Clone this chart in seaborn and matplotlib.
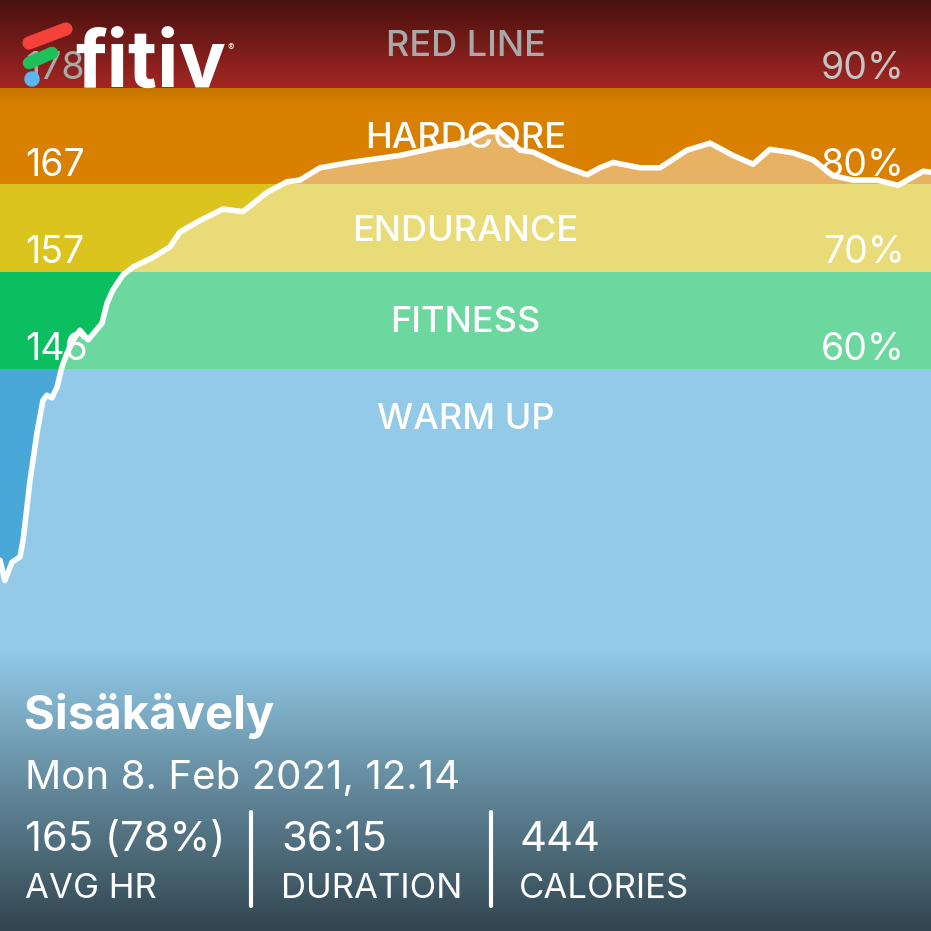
import numpy as np
import pandas as pd
import matplotlib
matplotlib.use("Agg")
import matplotlib.pyplot as plt
import matplotlib.transforms as mtransforms
import seaborn as sns

# heart-rate zones (bpm) and workout data
zone_names = ["WARM UP", "FITNESS", "ENDURANCE", "HARDCORE", "RED LINE"]
zone_lo = [82, 146, 157, 167, 178]
zone_hi = [146, 157, 167, 178, 188]
zone_pct = ["", "60%", "70%", "80%", "90%"]
zone_colors = ["#4aa8d8", "#0bbf60", "#dbc41e", "#d98000", "#b42a26"]

time_min = [0, 0.19, 0.47, 0.78, 0.90, 1.17, 1.44, 1.67, 1.83, 2.02,
            2.22, 2.41, 2.61, 2.92, 3.11, 3.43, 3.97, 4.17, 4.40, 4.79,
            5.18, 5.96, 6.62, 7.01, 7.79, 8.68, 9.46, 10.40, 11.17, 11.68,
            12.46, 13.63, 15.57, 17.13, 18.11, 18.96, 19.47, 20.25, 20.75, 21.80,
            22.86, 23.36, 23.87, 24.92, 25.70, 26.75, 27.65, 28.54, 29.32, 29.98,
            30.88, 31.66, 32.43, 33.21, 34.15, 34.97, 35.94, 36.25]
hr_bpm = [124.2, 121.9, 124.0, 124.6, 126.5, 133.3, 138.7, 142.4, 143.0, 142.7,
          143.9, 146.2, 147.8, 149.6, 150.4, 149.3, 151.2, 153.5, 155.0, 156.7,
          157.6, 158.7, 159.9, 161.6, 162.9, 164.2, 163.9, 166.1, 167.3, 167.5,
          168.9, 169.5, 170.3, 171.3, 171.8, 173.0, 173.0, 170.9, 170.7, 169.2,
          168.1, 168.9, 169.5, 168.9, 168.9, 170.9, 171.7, 170.3, 169.3, 171.0,
          170.6, 169.8, 168.0, 167.5, 167.5, 166.9, 168.5, 168.4]

workout = "Sisäkävely"
date_str = "Mon 8. Feb 2021, 12.14"
stat_values = ["165 (78%)", "36:15", "444"]
stat_labels = ["AVG HR", "DURATION", "CALORIES"]

df = pd.DataFrame({"time": time_min, "hr": hr_bpm})

sns.set_style("white")
plt.rcParams["font.family"] = ["Inter", "DejaVu Sans"]

fig = plt.figure(figsize=(9.31, 9.31), dpi=100)
ax = fig.add_axes([0, 0, 1, 1])

for lo, hi, c in zip(zone_lo, zone_hi, zone_colors):
    ax.axhspan(lo, hi, color=c, lw=0, zorder=0)

ax.fill_between(df["time"], zone_lo[0], df["hr"], color="white", alpha=0.4, lw=0, zorder=1)
sns.lineplot(data=df, x="time", y="hr", ax=ax, color="white", lw=4,
             estimator=None, sort=False, zorder=3)

# dark gradients top and bottom
top = np.zeros((100, 1, 4))
top[:, 0, 3] = np.linspace(0, 0.6, 100)
ax.imshow(top, extent=(0, 1, 1 - 105 / 931, 1), transform=ax.transAxes,
          aspect="auto", origin="lower", zorder=2)
bot = np.zeros((100, 1, 4))
bot[:, 0, 3] = np.linspace(0.66, 0, 100)
ax.imshow(bot, extent=(0, 1, 0, 1 - 648 / 931), transform=ax.transAxes,
          aspect="auto", origin="lower", zorder=2)

ax.set_xlim(0, max(time_min))
ax.set_ylim(zone_lo[0], zone_hi[-1])
ax.set_axis_off()

# zone labels
trans = mtransforms.blended_transform_factory(ax.transAxes, ax.transData)
for i, (name, lo, hi, pct) in enumerate(zip(zone_names, zone_lo, zone_hi, zone_pct)):
    red = name == "RED LINE"
    ax.text(0.5, hi - min(hi - lo, 10.8) / 2 - 1.4, name, transform=trans, ha="center",
            va="baseline", fontsize=26, fontweight="medium",
            color="#a9a9a9" if red else "white", zorder=4)
    if i > 0:
        ax.text(0.027, lo + 1.0, str(lo), transform=trans, ha="left", va="baseline",
                fontsize=27, color="#a9a9a9" if red else "white", zorder=4)
        ax.text(0.972, lo + 1.0, pct, transform=trans, ha="right", va="baseline",
                fontsize=27, color="#c4c4c4" if red else "white", zorder=4)

# logo
def px(x, y):
    return x / 931, 1 - y / 931

for (x0, y0), (x1, y1), c, w in [((29, 43), (66, 29), "#f2423a", 9.5),
                                  ((29, 63), (52, 53), "#1fbf5a", 9.0)]:
    a, b = px(x0, y0), px(x1, y1)
    fig.add_artist(plt.Line2D([a[0], b[0]], [a[1], b[1]], color=c, lw=w,
                              solid_capstyle="round", zorder=6))
cx, cy = px(32, 79)
fig.add_artist(matplotlib.patches.Circle((cx, cy), 7 / 931, color="#5ab8f0", zorder=6))
fig.text(*px(75, 87), "fitiv", fontsize=57, fontweight="bold", color="white",
         va="baseline", ha="left", zorder=6)
fig.text(*px(228, 51), "®", fontsize=7, color="white", va="baseline", zorder=6)

# workout summary
fig.text(*px(24, 729), workout, fontsize=34, fontweight="bold", color="white", va="baseline")
fig.text(*px(25, 789), date_str, fontsize=29, color="white", va="baseline")
cols = [25, 281, 519]
for x, v, l in zip(cols, stat_values, stat_labels):
    fig.text(*px(x, 851), v, fontsize=30, color="white", va="baseline")
    fig.text(*px(x, 898), l, fontsize=25, color="white", va="baseline")
for x in [251, 491]:
    a, b = px(x, 812), px(x, 906)
    fig.add_artist(plt.Line2D([a[0], b[0]], [a[1], b[1]], color="white", lw=3))

fig.savefig("out.png", dpi=100)
